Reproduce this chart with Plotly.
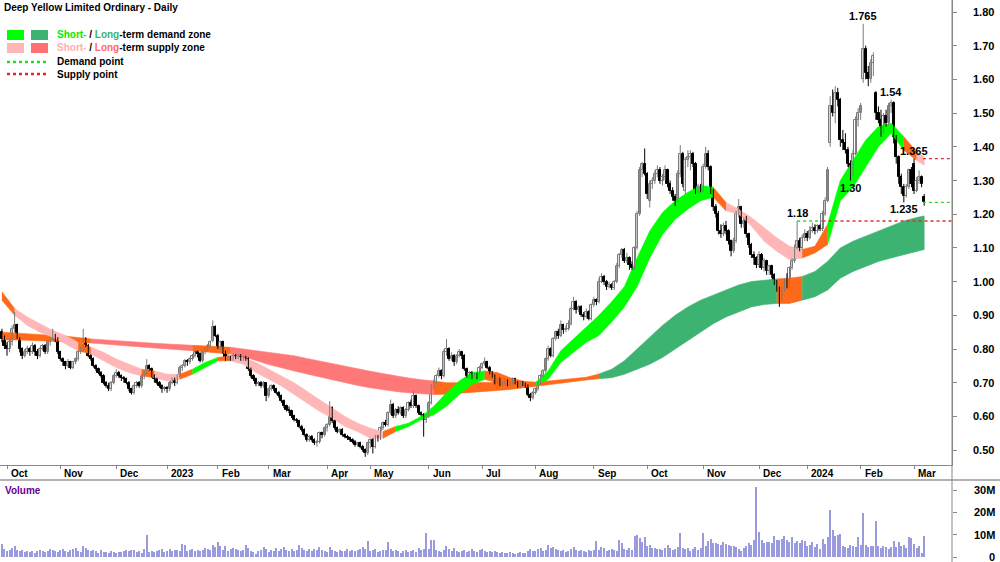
import plotly.graph_objects as go
import pandas as pd

# ---------------- data ----------------
asx_holidays = ["2022-12-26", "2022-12-27", "2023-01-02", "2023-01-26", "2023-04-07",
                "2023-04-10", "2023-04-25", "2023-06-12", "2023-12-25", "2023-12-26",
                "2024-01-01", "2024-01-26"]
first_day = "2022-09-29"
last_day = "2024-03-07"

open_ = [
    0.85, 0.83,
    0.81, 0.80, 0.82, 0.86, 0.87, 0.83, 0.80, 0.78, 0.79, 0.80, 0.79, 0.81, 0.79, 0.78, 0.80, 0.81, 0.79, 0.82, 0.83, 0.84, 0.83,
    0.79, 0.77, 0.76, 0.75, 0.76, 0.745, 0.76, 0.77, 0.79, 0.80, 0.83, 0.81, 0.78, 0.77, 0.75, 0.74, 0.73, 0.72, 0.70, 0.69, 0.68, 0.70,
    0.72, 0.73, 0.72, 0.715, 0.71, 0.70, 0.68, 0.67, 0.69, 0.70, 0.69, 0.72, 0.73, 0.75, 0.74, 0.72, 0.71, 0.70, 0.69, 0.68,
    0.685, 0.68, 0.70, 0.71, 0.70, 0.72, 0.745, 0.75, 0.765, 0.76, 0.77, 0.78, 0.79, 0.785, 0.765, 0.79, 0.80, 0.81, 0.825, 0.865,
    0.84, 0.805, 0.82, 0.79, 0.77, 0.775, 0.77, 0.78, 0.775, 0.78, 0.77, 0.775, 0.77, 0.74, 0.72, 0.71, 0.695, 0.70, 0.69, 0.70,
    0.66, 0.68, 0.69, 0.68, 0.67, 0.66, 0.645, 0.63, 0.62, 0.615, 0.60, 0.59, 0.585, 0.57, 0.56, 0.545, 0.53, 0.54, 0.53, 0.52, 0.525, 0.55, 0.545,
    0.565, 0.575, 0.625, 0.585, 0.565, 0.555, 0.56, 0.545, 0.54, 0.535, 0.53, 0.525, 0.515, 0.52, 0.51, 0.50, 0.49,
    0.52, 0.53, 0.51, 0.54, 0.535, 0.565, 0.58, 0.575, 0.61, 0.635, 0.60, 0.62, 0.61, 0.625, 0.60, 0.62, 0.64, 0.63, 0.66, 0.63, 0.61, 0.605, 0.59,
    0.60, 0.64, 0.69, 0.70, 0.72, 0.735, 0.72, 0.79, 0.80, 0.77, 0.78, 0.76, 0.78, 0.79, 0.78, 0.74, 0.72, 0.73, 0.72, 0.725, 0.72,
    0.745, 0.755, 0.76, 0.745, 0.73, 0.72, 0.70, 0.71, 0.695, 0.70, 0.705, 0.695, 0.70, 0.71, 0.70, 0.69, 0.70, 0.695, 0.69, 0.665, 0.655,
    0.67, 0.68, 0.70, 0.72, 0.735, 0.77, 0.80, 0.78, 0.83, 0.85, 0.84, 0.87, 0.855, 0.86, 0.875, 0.92, 0.94, 0.915, 0.925, 0.90, 0.895, 0.91, 0.89,
    0.93, 0.945, 0.94, 1.00, 1.015, 1.00, 0.985, 0.99, 0.98, 1.00, 1.045, 1.08, 1.095, 1.06, 1.07, 1.05, 1.04, 1.10, 1.20, 1.33, 1.35,
    1.32, 1.24, 1.29, 1.30, 1.32, 1.33, 1.30, 1.31, 1.33, 1.29, 1.27, 1.25, 1.24, 1.32, 1.38, 1.27, 1.36, 1.37, 1.38, 1.35, 1.27, 1.28,
    1.27, 1.34, 1.38, 1.34, 1.27, 1.22, 1.20, 1.15, 1.14, 1.165, 1.15, 1.12, 1.09, 1.12, 1.20, 1.22, 1.17, 1.19, 1.14, 1.11, 1.08, 1.07,
    1.05, 1.08, 1.04, 1.06, 1.03, 1.045, 1.02, 1.00, 0.98, 0.955, 0.975, 1.00, 0.99, 1.04, 1.06, 1.10, 1.12, 1.10, 1.13,
    1.14, 1.13, 1.15, 1.16, 1.15, 1.165, 1.155, 1.20, 1.24, 1.41, 1.52, 1.50, 1.56, 1.54, 1.42, 1.41, 1.39, 1.35, 1.32, 1.38, 1.48,
    1.50, 1.60, 1.69, 1.62, 1.60, 1.65, 1.56, 1.50, 1.48, 1.45, 1.49, 1.47, 1.52, 1.53, 1.43, 1.37, 1.31, 1.28, 1.255, 1.28, 1.33,
    1.35, 1.27, 1.30, 1.31, 1.25,
]
high = [
    0.86, 0.84,
    0.82, 0.83, 0.87, 0.91, 0.875, 0.835, 0.805, 0.80, 0.81, 0.805, 0.82, 0.815, 0.80, 0.805, 0.815, 0.815, 0.825, 0.835, 0.86, 0.845, 0.835,
    0.795, 0.775, 0.765, 0.77, 0.765, 0.765, 0.775, 0.795, 0.805, 0.86, 0.835, 0.815, 0.785, 0.775, 0.755, 0.745, 0.735, 0.725, 0.705, 0.70, 0.705, 0.725,
    0.74, 0.735, 0.725, 0.72, 0.715, 0.705, 0.685, 0.695, 0.705, 0.705, 0.725, 0.735, 0.77, 0.755, 0.745, 0.725, 0.715, 0.705, 0.695, 0.69,
    0.69, 0.705, 0.715, 0.715, 0.725, 0.75, 0.755, 0.77, 0.77, 0.775, 0.785, 0.80, 0.795, 0.79, 0.795, 0.805, 0.815, 0.825, 0.885, 0.87,
    0.845, 0.825, 0.825, 0.795, 0.785, 0.78, 0.785, 0.785, 0.785, 0.785, 0.78, 0.78, 0.775, 0.745, 0.725, 0.715, 0.705, 0.705, 0.705, 0.70,
    0.685, 0.695, 0.695, 0.685, 0.675, 0.665, 0.65, 0.635, 0.63, 0.62, 0.605, 0.595, 0.59, 0.575, 0.565, 0.55, 0.545, 0.545, 0.535, 0.53, 0.555, 0.555, 0.57,
    0.58, 0.645, 0.63, 0.59, 0.57, 0.565, 0.565, 0.55, 0.545, 0.54, 0.535, 0.53, 0.525, 0.525, 0.515, 0.505, 0.525,
    0.535, 0.535, 0.545, 0.545, 0.57, 0.585, 0.59, 0.615, 0.65, 0.64, 0.625, 0.63, 0.63, 0.63, 0.625, 0.645, 0.65, 0.675, 0.665, 0.635, 0.615, 0.61, 0.605,
    0.645, 0.695, 0.71, 0.725, 0.745, 0.74, 0.80, 0.83, 0.805, 0.79, 0.785, 0.785, 0.80, 0.795, 0.785, 0.745, 0.735, 0.735, 0.73, 0.73, 0.75,
    0.76, 0.775, 0.765, 0.75, 0.735, 0.725, 0.715, 0.715, 0.705, 0.71, 0.71, 0.705, 0.715, 0.715, 0.705, 0.705, 0.705, 0.70, 0.695, 0.67, 0.675,
    0.685, 0.705, 0.725, 0.74, 0.775, 0.81, 0.805, 0.835, 0.855, 0.86, 0.885, 0.875, 0.87, 0.885, 0.925, 0.955, 0.945, 0.93, 0.93, 0.91, 0.92, 0.915, 0.935,
    0.955, 0.95, 1.01, 1.025, 1.02, 1.005, 1.00, 0.995, 1.005, 1.055, 1.085, 1.10, 1.10, 1.085, 1.075, 1.06, 1.105, 1.21, 1.34, 1.355, 1.395,
    1.325, 1.30, 1.31, 1.33, 1.345, 1.34, 1.32, 1.345, 1.335, 1.30, 1.28, 1.26, 1.33, 1.405, 1.385, 1.37, 1.39, 1.39, 1.385, 1.355, 1.29, 1.29,
    1.35, 1.40, 1.39, 1.345, 1.275, 1.23, 1.21, 1.17, 1.175, 1.18, 1.155, 1.125, 1.13, 1.21, 1.245, 1.225, 1.19, 1.195, 1.145, 1.115, 1.09, 1.075,
    1.09, 1.085, 1.07, 1.065, 1.05, 1.05, 1.025, 1.005, 0.985, 0.985, 1.01, 1.025, 1.045, 1.07, 1.11, 1.18, 1.13, 1.14, 1.155,
    1.15, 1.165, 1.175, 1.17, 1.17, 1.17, 1.21, 1.25, 1.34, 1.55, 1.57, 1.58, 1.575, 1.545, 1.45, 1.44, 1.40, 1.36, 1.39, 1.49, 1.515,
    1.53, 1.765, 1.70, 1.64, 1.66, 1.68, 1.565, 1.52, 1.51, 1.50, 1.51, 1.53, 1.54, 1.535, 1.435, 1.375, 1.32, 1.29, 1.29, 1.335, 1.34,
    1.365, 1.31, 1.33, 1.315, 1.26,
]
low = [
    0.82, 0.80,
    0.78, 0.79, 0.81, 0.85, 0.83, 0.79, 0.77, 0.775, 0.785, 0.78, 0.785, 0.78, 0.77, 0.775, 0.795, 0.785, 0.785, 0.81, 0.825, 0.82, 0.785,
    0.765, 0.75, 0.74, 0.745, 0.74, 0.74, 0.755, 0.765, 0.785, 0.795, 0.805, 0.775, 0.765, 0.745, 0.735, 0.725, 0.715, 0.695, 0.685, 0.675, 0.675, 0.695,
    0.715, 0.715, 0.705, 0.70, 0.695, 0.675, 0.665, 0.665, 0.685, 0.685, 0.685, 0.71, 0.725, 0.735, 0.715, 0.70, 0.695, 0.685, 0.67, 0.675,
    0.67, 0.675, 0.695, 0.69, 0.695, 0.715, 0.735, 0.745, 0.75, 0.755, 0.765, 0.775, 0.775, 0.76, 0.76, 0.785, 0.795, 0.805, 0.82, 0.835,
    0.80, 0.80, 0.785, 0.765, 0.765, 0.765, 0.765, 0.77, 0.77, 0.765, 0.765, 0.765, 0.735, 0.715, 0.705, 0.69, 0.69, 0.685, 0.685, 0.645,
    0.655, 0.675, 0.675, 0.665, 0.655, 0.64, 0.625, 0.615, 0.61, 0.595, 0.585, 0.58, 0.565, 0.555, 0.54, 0.525, 0.525, 0.525, 0.515, 0.51, 0.52, 0.535, 0.54,
    0.555, 0.57, 0.58, 0.56, 0.55, 0.55, 0.54, 0.535, 0.53, 0.525, 0.52, 0.51, 0.51, 0.505, 0.495, 0.48, 0.485,
    0.505, 0.49, 0.505, 0.525, 0.53, 0.56, 0.57, 0.57, 0.605, 0.595, 0.595, 0.605, 0.605, 0.595, 0.595, 0.615, 0.625, 0.625, 0.625, 0.605, 0.60, 0.54, 0.58,
    0.595, 0.635, 0.68, 0.695, 0.715, 0.71, 0.715, 0.78, 0.765, 0.765, 0.75, 0.755, 0.775, 0.77, 0.735, 0.715, 0.71, 0.71, 0.715, 0.71, 0.715,
    0.74, 0.75, 0.74, 0.725, 0.715, 0.695, 0.695, 0.69, 0.69, 0.695, 0.69, 0.69, 0.695, 0.695, 0.685, 0.685, 0.69, 0.685, 0.66, 0.645, 0.65,
    0.665, 0.675, 0.695, 0.715, 0.73, 0.765, 0.775, 0.775, 0.825, 0.83, 0.835, 0.845, 0.85, 0.855, 0.87, 0.915, 0.905, 0.91, 0.895, 0.885, 0.89, 0.885, 0.885,
    0.925, 0.93, 0.935, 0.995, 0.99, 0.975, 0.98, 0.975, 0.975, 0.995, 1.04, 1.07, 1.055, 1.055, 1.035, 1.035, 1.035, 1.095, 1.195, 1.31, 1.315,
    1.245, 1.22, 1.275, 1.29, 1.31, 1.29, 1.285, 1.30, 1.28, 1.26, 1.24, 1.225, 1.235, 1.31, 1.28, 1.26, 1.34, 1.33, 1.34, 1.26, 1.26, 1.265,
    1.265, 1.335, 1.33, 1.26, 1.21, 1.19, 1.14, 1.13, 1.135, 1.14, 1.11, 1.075, 1.085, 1.115, 1.19, 1.16, 1.16, 1.13, 1.10, 1.07, 1.05, 1.04,
    1.045, 1.035, 1.03, 1.02, 1.02, 1.01, 0.99, 0.97, 0.925, 0.94, 0.97, 0.98, 0.985, 1.035, 1.055, 1.095, 1.09, 1.095, 1.12,
    1.12, 1.125, 1.145, 1.14, 1.145, 1.15, 1.15, 1.195, 1.235, 1.40, 1.49, 1.47, 1.52, 1.40, 1.39, 1.38, 1.34, 1.30, 1.315, 1.375, 1.46,
    1.48, 1.59, 1.60, 1.58, 1.59, 1.61, 1.48, 1.47, 1.43, 1.44, 1.46, 1.465, 1.50, 1.41, 1.35, 1.29, 1.26, 1.235, 1.25, 1.275, 1.28,
    1.26, 1.265, 1.29, 1.28, 1.225,
]
close = [
    0.83, 0.81,
    0.80, 0.82, 0.86, 0.87, 0.84, 0.80, 0.78, 0.79, 0.80, 0.79, 0.81, 0.79, 0.78, 0.80, 0.81, 0.79, 0.82, 0.83, 0.84, 0.83, 0.79,
    0.77, 0.76, 0.75, 0.76, 0.745, 0.76, 0.77, 0.79, 0.80, 0.83, 0.81, 0.78, 0.77, 0.75, 0.74, 0.73, 0.72, 0.70, 0.69, 0.68, 0.70, 0.72,
    0.73, 0.72, 0.715, 0.71, 0.70, 0.68, 0.67, 0.69, 0.70, 0.69, 0.72, 0.73, 0.75, 0.74, 0.72, 0.71, 0.70, 0.69, 0.68, 0.685,
    0.68, 0.70, 0.71, 0.70, 0.72, 0.745, 0.75, 0.765, 0.76, 0.77, 0.78, 0.79, 0.785, 0.765, 0.79, 0.80, 0.81, 0.82, 0.865, 0.84,
    0.805, 0.82, 0.79, 0.77, 0.775, 0.77, 0.78, 0.775, 0.78, 0.77, 0.775, 0.77, 0.74, 0.72, 0.71, 0.695, 0.70, 0.69, 0.70, 0.66,
    0.68, 0.69, 0.68, 0.67, 0.66, 0.645, 0.63, 0.62, 0.615, 0.60, 0.59, 0.585, 0.57, 0.56, 0.545, 0.53, 0.54, 0.53, 0.52, 0.525, 0.55, 0.545, 0.565,
    0.575, 0.625, 0.585, 0.565, 0.555, 0.56, 0.545, 0.54, 0.535, 0.53, 0.525, 0.515, 0.52, 0.51, 0.50, 0.49, 0.52,
    0.53, 0.51, 0.54, 0.535, 0.565, 0.58, 0.575, 0.61, 0.635, 0.60, 0.62, 0.61, 0.625, 0.60, 0.62, 0.64, 0.63, 0.66, 0.63, 0.61, 0.605, 0.59, 0.60,
    0.64, 0.69, 0.70, 0.72, 0.735, 0.72, 0.79, 0.80, 0.77, 0.78, 0.76, 0.78, 0.79, 0.78, 0.74, 0.72, 0.73, 0.72, 0.725, 0.72, 0.745,
    0.755, 0.76, 0.745, 0.73, 0.72, 0.70, 0.71, 0.695, 0.70, 0.705, 0.695, 0.70, 0.71, 0.70, 0.69, 0.70, 0.695, 0.69, 0.665, 0.655, 0.67,
    0.68, 0.70, 0.72, 0.735, 0.77, 0.80, 0.78, 0.83, 0.85, 0.84, 0.87, 0.855, 0.86, 0.875, 0.92, 0.94, 0.915, 0.925, 0.90, 0.895, 0.91, 0.89, 0.93,
    0.945, 0.94, 1.00, 1.015, 1.00, 0.985, 0.99, 0.98, 1.00, 1.045, 1.08, 1.095, 1.06, 1.07, 1.05, 1.04, 1.10, 1.20, 1.33, 1.35, 1.32,
    1.26, 1.29, 1.30, 1.32, 1.33, 1.30, 1.31, 1.33, 1.29, 1.27, 1.25, 1.24, 1.32, 1.38, 1.29, 1.36, 1.37, 1.38, 1.35, 1.27, 1.28, 1.27,
    1.34, 1.38, 1.34, 1.27, 1.22, 1.20, 1.15, 1.14, 1.165, 1.15, 1.12, 1.09, 1.12, 1.20, 1.22, 1.17, 1.18, 1.14, 1.11, 1.08, 1.07, 1.05,
    1.08, 1.04, 1.06, 1.03, 1.045, 1.02, 1.00, 0.98, 0.955, 0.975, 1.00, 0.99, 1.04, 1.06, 1.10, 1.12, 1.10, 1.13, 1.14,
    1.13, 1.15, 1.16, 1.15, 1.165, 1.155, 1.20, 1.24, 1.33, 1.52, 1.50, 1.56, 1.54, 1.42, 1.41, 1.39, 1.35, 1.32, 1.38, 1.48, 1.50,
    1.52, 1.69, 1.62, 1.60, 1.65, 1.67, 1.50, 1.48, 1.45, 1.49, 1.47, 1.52, 1.53, 1.43, 1.37, 1.31, 1.28, 1.255, 1.28, 1.33, 1.29,
    1.27, 1.30, 1.31, 1.29, 1.235,
]
volume_m = [
    5.8, 3.5, 2.8, 3.2, 4.0, 5.0, 3.0, 2.5, 3.0, 2.2, 2.8, 2.4, 2.6, 2.0, 2.5, 3.0, 2.6, 2.2, 2.8, 3.4, 3.2, 2.5, 2.4,
    3.0, 3.8, 2.5, 2.2, 3.0, 3.5, 4.0, 2.8, 2.4, 5.0, 4.2, 3.0, 2.6, 3.2, 2.8, 2.0, 3.0, 2.4, 2.2, 2.0, 2.6, 2.2,
    2.0, 2.4, 2.2, 2.8, 3.0, 2.5, 3.2, 3.0, 2.2, 2.6, 2.0, 3.5, 9.8, 2.4, 2.8, 2.2, 2.6, 3.0, 3.8, 2.4,
    2.8, 3.5, 2.5, 3.0, 3.2, 2.6, 5.8, 5.6, 2.8, 3.0, 3.6, 2.6, 3.0, 2.5, 3.2, 4.0, 3.5, 3.0, 5.5, 4.5,
    6.7, 5.0, 3.0, 4.8, 2.6, 3.5, 4.2, 3.8, 3.2, 2.8, 3.0, 5.2, 4.2, 2.8, 2.2, 1.5, 2.6, 3.0, 4.5, 3.5,
    2.4, 3.0, 2.6, 4.2, 2.8, 3.5, 4.6, 3.2, 2.6, 3.6, 2.8, 3.0, 5.5, 4.0, 3.2, 2.6, 3.8, 2.5, 3.5, 3.0, 4.5, 3.0, 2.6,
    2.4, 4.6, 3.2, 2.8, 2.4, 3.0, 2.6, 2.8, 3.4, 2.5, 3.0, 2.6, 3.2, 3.6, 4.4, 3.6, 7.3,
    2.6, 3.2, 3.6, 2.4, 2.8, 3.0, 3.2, 6.8, 3.8, 2.6, 3.0, 2.8, 2.0, 2.6, 3.2, 2.4, 2.8, 3.0, 2.4, 4.0, 3.2, 3.6, 10.6,
    3.6, 7.8, 7.6, 3.0, 2.6, 2.4, 3.0, 5.0, 3.6, 2.8, 4.0, 2.6, 2.2, 2.8, 3.0, 2.4, 2.6, 3.4, 2.8, 2.2, 3.0,
    3.8, 2.5, 2.2, 2.6, 2.4, 2.8, 2.2, 1.8, 2.4, 2.0, 1.6, 2.2, 1.8, 1.5, 2.0, 2.4, 1.8, 2.0, 2.8, 3.4, 2.6,
    2.6, 3.6, 4.0, 2.8, 3.0, 5.2, 4.2, 4.4, 3.8, 3.2, 2.6, 3.0, 2.4, 2.8, 3.6, 4.4, 3.0, 2.6, 3.2, 2.8, 2.4, 3.0, 2.6,
    3.0, 7.0, 3.2, 4.4, 4.0, 2.8, 3.0, 3.4, 3.0, 2.6, 7.8, 6.4, 3.6, 3.0, 4.2, 3.2, 9.2, 10.0, 8.4, 6.6, 8.8,
    5.0, 5.2, 4.0, 4.2, 3.4, 3.8, 3.0, 4.2, 5.6, 4.0, 3.2, 3.6, 4.4, 10.8, 4.0, 3.6, 4.2, 2.8, 3.8, 4.4, 3.2, 4.0,
    10.8, 5.0, 7.0, 8.2, 6.2, 6.2, 6.0, 5.6, 6.6, 5.8, 5.2, 4.8, 5.0, 4.4, 3.6, 2.8, 4.0, 5.0, 6.4, 5.4, 7.6, 31.5,
    11.0, 7.8, 6.4, 6.6, 6.8, 6.2, 9.6, 7.6, 7.8, 8.2, 9.4, 7.8, 6.6, 8.8, 6.4, 7.2, 6.2, 7.4, 7.0,
    4.8, 5.6, 6.6, 4.6, 5.8, 3.8, 8.2, 6.0, 9.0, 21.0, 12.0, 9.6, 10.0, 10.5, 5.0, 4.6, 4.2, 5.2, 4.8, 4.4, 9.0,
    5.2, 19.5, 5.2, 4.6, 5.0, 4.8, 16.0, 4.8, 4.2, 5.0, 4.4, 3.8, 4.6, 7.2, 4.4, 6.8, 4.8, 5.6, 4.2, 8.8, 8.4,
    6.0, 4.2, 5.0, 1.8, 9.6,
]

# demand / supply zones, sampled every 5 trading days (index into the trading-day list)
zone_idx = list(range(0, 361, 5)) + [363]
st_hi = [0.97, 0.92, 0.895, 0.875, 0.855, 0.84, 0.82, 0.805, 0.79, 0.77, 0.755, 0.74, 0.735, 0.725, 0.725,
         0.74, 0.76, 0.775, 0.78, 0.775, 0.76, 0.74, 0.72, 0.70, 0.675, 0.65, 0.625, 0.60, 0.58, 0.565,
         0.555, 0.57, 0.58, 0.60, 0.63, 0.67, 0.705, 0.73, 0.735, 0.73, 0.715, 0.705, 0.70, 0.735, 0.795,
         0.83, 0.865, 0.90, 0.94, 0.985, 1.07, 1.15, 1.205, 1.24, 1.265, 1.285, 1.28, 1.235, 1.215, 1.19,
         1.16, 1.13, 1.105, 1.095, 1.105, 1.17, 1.30, 1.36, 1.42, 1.46, 1.47, 1.43, 1.385, 1.37]
st_lo = [0.945, 0.90, 0.87, 0.85, 0.835, 0.815, 0.795, 0.785, 0.765, 0.745, 0.73, 0.72, 0.715, 0.705, 0.71,
         0.725, 0.745, 0.765, 0.765, 0.755, 0.73, 0.71, 0.69, 0.665, 0.64, 0.615, 0.595, 0.57, 0.555, 0.535,
         0.535, 0.555, 0.57, 0.59, 0.605, 0.63, 0.665, 0.695, 0.71, 0.70, 0.695, 0.69, 0.69, 0.71, 0.76,
         0.79, 0.82, 0.84, 0.88, 0.925, 0.985, 1.07, 1.14, 1.185, 1.215, 1.24, 1.25, 1.21, 1.20, 1.165,
         1.12, 1.09, 1.065, 1.07, 1.085, 1.11, 1.24, 1.28, 1.34, 1.40, 1.44, 1.39, 1.36, 1.345]
st_state = ("OPPPPP" "OPPPPO" "PPOGGO" "PPPPPP" "PPPPPP" "OGGGGG" "GGOOOO"
            "GGGGGG" "GGGGGG" "GGOPPP" "PPPOOG" "GGGGGO" "P")
lt_hi = [0.85, 0.848, 0.846, 0.844, 0.842, 0.838, 0.834, 0.83, 0.827, 0.824, 0.821, 0.819, 0.817, 0.815, 0.813,
         0.811, 0.809, 0.807, 0.805, 0.80, 0.797, 0.792, 0.787, 0.78, 0.772, 0.764, 0.757, 0.75, 0.742, 0.734,
         0.727, 0.72, 0.714, 0.709, 0.705, 0.70, 0.70, 0.70, 0.70, 0.70, 0.70, 0.70, 0.702, 0.705, 0.708,
         0.711, 0.716, 0.726, 0.74, 0.765, 0.80, 0.835, 0.87, 0.90, 0.925, 0.945, 0.96, 0.975, 0.99, 1.00,
         1.005, 1.008, 1.01, 1.015, 1.03, 1.06, 1.10, 1.12, 1.135, 1.15, 1.165, 1.18, 1.19, 1.195]
lt_lo = [0.827, 0.827, 0.826, 0.825, 0.824, 0.822, 0.82, 0.818, 0.815, 0.812, 0.809, 0.806, 0.803, 0.80, 0.797,
         0.795, 0.792, 0.789, 0.785, 0.778, 0.766, 0.754, 0.744, 0.735, 0.726, 0.717, 0.708, 0.70, 0.692, 0.685,
         0.679, 0.674, 0.67, 0.667, 0.665, 0.666, 0.668, 0.671, 0.674, 0.677, 0.68, 0.683, 0.688, 0.693, 0.698,
         0.703, 0.708, 0.712, 0.715, 0.725, 0.74, 0.755, 0.775, 0.80, 0.825, 0.85, 0.875, 0.895, 0.91, 0.925,
         0.932, 0.935, 0.935, 0.945, 0.955, 0.975, 1.01, 1.03, 1.045, 1.06, 1.07, 1.08, 1.09, 1.095]
lt_state = ("OOOOOO" "OSSSSS" "SSSOOO" "SSSSSS" "SSSSSS" "SSSSOO" "OOOOOO"
            "OOOOOD" "DDDDDD" "DDDDDD" "DOODDD" "DDDDDD" "D")

# marked highs / lows
pt_text = ["1.765", "1.54", "1.365", "1.30", "1.18", "1.235"]
pt_idx = [339, 350, 359, 334, 313, 355]
pt_price = [1.765, 1.54, 1.365, 1.30, 1.18, 1.235]
pt_side = ["above", "above", "above", "below", "above", "below"]

# demand / supply point lines
dl_price = [1.18, 1.18, 1.235, 1.365]
dl_start = [313, 323, 362.5, 362.5]
dl_kind = ["demand", "supply", "demand", "supply"]
dl_stop = [323, None, None, None]

# ---------------- build ----------------
FONT = "Liberation Sans, Arial, sans-serif"
W, H = 1000, 562
ZONE_COLORS = {"G": "#00FF00", "P": "#FFB6B6", "O": "#FF6A1A", "D": "#3CB371", "S": "#FF7878"}

all_days = pd.bdate_range(first_day, last_day)
dates = all_days[~all_days.isin(pd.to_datetime(asx_holidays))]
N = min(len(dates), len(open_), len(high), len(low), len(close), len(volume_m))
dates = dates[:N]
xi = list(range(N))

# month starts
tick_idx, tick_txt = [], []
prev = None
for i, d in enumerate(dates):
    key = (d.year, d.month)
    if key != prev and i > 0:
        tick_idx.append(i)
        tick_txt.append(str(d.year) if d.month == 1 else d.strftime("%b"))
    prev = key

# pixel calibration of the x axis (Oct tick at 7px, Mar tick at 914px, plot right edge 952px)
PLOT_R = 952
i_first, i_last = tick_idx[0], tick_idx[-1]
ppd = (914 - 7) / (i_last - i_first)
x_min = i_first - 7 / ppd
x_max = x_min + PLOT_R / ppd

# price axis: 1.80 at y=12px, 0.10 per 33.7px, panel bottom at 465px
PRICE_BOT = 465
ppp = 337.0
y_top = 1.80 + 12 / ppp
y_bot = 1.80 - (PRICE_BOT - 12) / ppp

VOL_TOP = 480
vpx = 22.33 / 10.0  # px per million
v_top = (557 - VOL_TOP) / vpx
v_bot = -(H - 557) / vpx

fig = go.Figure()


def add_zone(hi, lo, state):
    nseg = min(len(state), len(zone_idx) - 1)
    s = 0
    while s < nseg:
        e = s
        while e + 1 < nseg and state[e + 1] == state[s]:
            e += 1
        xs = zone_idx[s:e + 2]
        px = xs + xs[::-1]
        py = hi[s:e + 2] + lo[s:e + 2][::-1]
        col = ZONE_COLORS[state[s]]
        fig.add_trace(go.Scatter(x=px, y=py, mode="lines", fill="toself", fillcolor=col,
                                 line=dict(color=col, width=0.6), hoverinfo="skip",
                                 showlegend=False, xaxis="x", yaxis="y"))
        s = e + 1


add_zone(lt_hi, lt_lo, lt_state)
add_zone(st_hi, st_lo, st_state)

# candles: wicks (lines) + bodies (bars with base)
UP_LINE, DN_LINE = "#7A7A7A", "#000000"
for up in (True, False):
    wx, wy = [], []
    for i in xi:
        if (close[i] >= open_[i]) == up:
            wx += [i, i, None]
            wy += [low[i], high[i], None]
    fig.add_trace(go.Scatter(x=wx, y=wy, mode="lines", line=dict(color=UP_LINE if up else DN_LINE, width=1),
                             hoverinfo="skip", showlegend=False, xaxis="x", yaxis="y"))

body_base = [min(open_[i], close[i]) for i in xi]
body_h = [max(abs(close[i] - open_[i]), 0.003) for i in xi]
body_fill = ["#FFFFFF" if close[i] >= open_[i] else "#000000" for i in xi]
body_line = [UP_LINE if close[i] >= open_[i] else DN_LINE for i in xi]
fig.add_trace(go.Bar(x=xi, y=body_h, base=body_base, width=0.85,
                     marker=dict(color=body_fill, line=dict(color=body_line, width=1)),
                     hoverinfo="skip", showlegend=False, xaxis="x", yaxis="y"))

fig.add_trace(go.Bar(x=xi, y=[v * 1e6 for v in volume_m[:N]], width=0.42,
                     marker=dict(color="#9A9ADF", line=dict(width=0)),
                     hoverinfo="skip", showlegend=False, xaxis="x2", yaxis="y2"))

shapes = []
annotations = []

# demand / supply point dotted lines
for p, s0, s1, k in zip(dl_price, dl_start, dl_stop, dl_kind):
    shapes.append(dict(type="line", xref="x", yref="y", x0=s0, x1=(s1 if s1 is not None else x_max),
                       y0=p, y1=p, line=dict(color="#33DD33" if k == "demand" else "#E03030",
                                             width=1.4, dash="dot")))

# point labels
for t, i, p, side in zip(pt_text, pt_idx, pt_price, pt_side):
    annotations.append(dict(x=i, y=p, xref="x", yref="y", text=t, showarrow=False,
                            yanchor="bottom" if side == "above" else "top",
                            yshift=0 if side == "above" else 1,
                            font=dict(family=FONT, size=11, color="#000000", weight="bold")))

# month labels
for i, t in zip(tick_idx, tick_txt):
    annotations.append(dict(x=i, y=1 - 473 / H, xref="x", yref="paper", text=t, showarrow=False,
                            xanchor="left", yanchor="middle", xshift=2,
                            font=dict(family=FONT, size=10, color="#000000", weight="bold")))

# right-hand axis labels (right aligned)
price_ticks = [0.5 + 0.1 * k for k in range(14)]
for v in price_ticks:
    annotations.append(dict(x=996 / W, y=v, xref="paper", yref="y", text="%.2f" % v, showarrow=False,
                            xanchor="right", yanchor="middle",
                            font=dict(family=FONT, size=11, color="#000000", weight="bold")))
vol_ticks = [0, 10e6, 20e6, 30e6]
vol_text = ["0", "10M", "20M", "30M"]
for v, t in zip(vol_ticks, vol_text):
    annotations.append(dict(x=997 / W, y=v, xref="paper", yref="y2", text=t, showarrow=False,
                            xanchor="right", yanchor="middle",
                            font=dict(family=FONT, size=11, color="#000000", weight="bold")))

# separators / axis line
shapes.append(dict(type="line", xref="paper", yref="paper", x0=0, x1=1,
                   y0=1 - VOL_TOP / H, y1=1 - VOL_TOP / H, line=dict(color="#999999", width=1.5)))
shapes.append(dict(type="line", xref="paper", yref="paper", x0=PLOT_R / W, x1=PLOT_R / W,
                   y0=0, y1=1, line=dict(color="#888888", width=1)))

# title
annotations.append(dict(x=2 / W, y=1 - 8 / H, xref="paper", yref="paper", xanchor="left", yanchor="middle",
                        text="Deep Yellow Limited Ordinary - Daily", showarrow=False,
                        font=dict(family=FONT, size=10, color="#000000", weight="bold")))


# legend
def prect(x0, y0, x1, y1, col):
    shapes.append(dict(type="rect", xref="paper", yref="paper", x0=x0 / W, x1=x1 / W,
                       y0=1 - y1 / H, y1=1 - y0 / H, fillcolor=col, line=dict(width=0)))


prect(7, 30, 24, 40, "#00FF00")
prect(31, 30, 48, 40, "#3CB371")
prect(7, 43, 24, 53, "#FFB6B6")
prect(31, 43, 48, 53, "#FF7070")
shapes.append(dict(type="line", xref="paper", yref="paper", x0=7 / W, x1=46 / W, y0=1 - 62 / H, y1=1 - 62 / H,
                   line=dict(color="#22DD22", width=2.5, dash="dot")))
shapes.append(dict(type="line", xref="paper", yref="paper", x0=7 / W, x1=46 / W, y0=1 - 74 / H, y1=1 - 74 / H,
                   line=dict(color="#EE2222", width=2.5, dash="dot")))
leg_rows = [
    (35, "<span style='color:#00EE00'>Short-</span> / <span style='color:#3CB371'>Long</span>-term demand zone"),
    (48, "<span style='color:#FFB0B0'>Short-</span> / <span style='color:#FF6868'>Long</span>-term supply zone"),
    (62, "Demand point"),
    (75, "Supply point"),
]
for yy, t in leg_rows:
    annotations.append(dict(x=55 / W, y=1 - yy / H, xref="paper", yref="paper", xanchor="left",
                            yanchor="middle", text=t, showarrow=False,
                            font=dict(family=FONT, size=10, color="#000000", weight="bold")))

annotations.append(dict(x=3 / W, y=1 - 490 / H, xref="paper", yref="paper", xanchor="left", yanchor="middle",
                        text="Volume", showarrow=False,
                        font=dict(family=FONT, size=10, color="#660099", weight="bold")))

fig.update_layout(
    width=W, height=H, margin=dict(l=0, r=0, t=0, b=0),
    paper_bgcolor="white", plot_bgcolor="white", showlegend=False,
    barmode="overlay", bargap=0,
    xaxis=dict(domain=[0, PLOT_R / W], range=[x_min, x_max], anchor="y",
               showticklabels=False, ticks="outside", ticklen=3, tickcolor="#888888",
               tickvals=tick_idx, showgrid=False, zeroline=False,
               showline=True, linecolor="#888888", linewidth=1),
    yaxis=dict(domain=[1 - PRICE_BOT / H, 1], range=[y_bot, y_top], anchor="x", side="right",
               tickvals=price_ticks, showticklabels=False,
               ticks="outside", ticklen=4, tickcolor="#888888", showgrid=False, zeroline=False,
               showline=True, linecolor="#888888"),
    xaxis2=dict(domain=[0, PLOT_R / W], range=[x_min, x_max], anchor="y2",
                showticklabels=False, ticks="", showgrid=False, zeroline=False, showline=False),
    yaxis2=dict(domain=[0, 1 - VOL_TOP / H], range=[v_bot * 1e6, v_top * 1e6], anchor="x2", side="right",
                tickvals=vol_ticks, showticklabels=False,
                ticks="outside", ticklen=4, tickcolor="#888888", showgrid=False, zeroline=False,
                showline=False),
    shapes=shapes, annotations=annotations,
)

fig.write_html("out.html")
